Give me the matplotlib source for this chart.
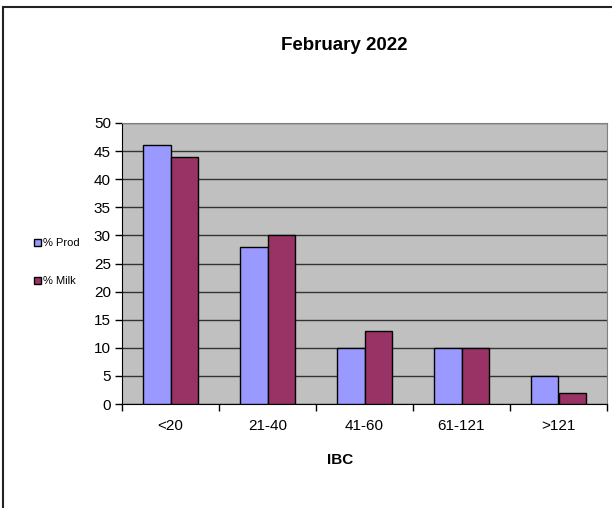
import numpy as np
import matplotlib
matplotlib.use("Agg")
import matplotlib.pyplot as plt
from matplotlib.patches import Rectangle

plt.rcParams['font.family'] = ['Liberation Sans', 'DejaVu Sans']

categories = ["<20", "21-40", "41-60", "61-121", ">121"]
prod = [46, 28, 10, 10, 5]
milk = [44, 30, 13, 10, 2]

W, H = 612, 508
fig = plt.figure(figsize=(W / 100, H / 100), dpi=100)

# chart border (only left/top visible in the original crop)
fig.patches.append(Rectangle((3.5 / W, -0.1), 1.2, 1 - 7.5 / H + 0.1,
                             transform=fig.transFigure, fill=False,
                             edgecolor="#222222", linewidth=1.5, zorder=0))

ax = fig.add_axes([122 / W, 1 - 404 / H, (607 - 122) / W, (404 - 123) / H])
ax.set_facecolor("#C0C0C0")

x = np.arange(len(categories))
bw = 1 / 3.5
ax.bar(x - bw / 2, prod, bw, color="#9999FF", edgecolor="black", linewidth=1,
       label="% Prod", zorder=3)
ax.bar(x + bw / 2, milk, bw, color="#993366", edgecolor="black", linewidth=1,
       label="% Milk", zorder=3)

ax.set_xlim(-0.5, len(categories) - 0.5)
ax.set_ylim(0, 50)
ax.set_yticks(np.arange(0, 51, 5))
ax.yaxis.grid(True, color="#333333", linewidth=1, zorder=1)
ax.set_axisbelow(True)

ax.set_xticks(x)
ax.set_xticklabels(categories, fontsize=11)
ax.set_xticks(np.arange(-0.5, len(categories), 1), minor=True)
ax.tick_params(axis="x", which="major", length=0, pad=11)
ax.tick_params(axis="x", which="minor", length=5, width=1, direction="out")
ax.tick_params(axis="y", length=5, width=1, direction="out", labelsize=11, pad=3)

for s in ["top", "right"]:
    ax.spines[s].set_color("#808080")
for s in ["left", "bottom"]:
    ax.spines[s].set_color("black")

fig.text(344 / W, 1 - 45 / H, "February 2022", ha="center", va="center",
         fontsize=13.5, fontweight="bold")
fig.text(340 / W, 1 - 460 / H, "IBC", ha="center", va="center",
         fontsize=11, fontweight="bold")

leg = fig.legend(loc="upper left", bbox_to_anchor=(30 / W, 1 - 234 / H),
                 frameon=False, fontsize=8, handlelength=0.6, handleheight=0.6,
                 handletextpad=0.2, labelspacing=2.5, borderaxespad=0)

fig.savefig("out.png", dpi=100)
